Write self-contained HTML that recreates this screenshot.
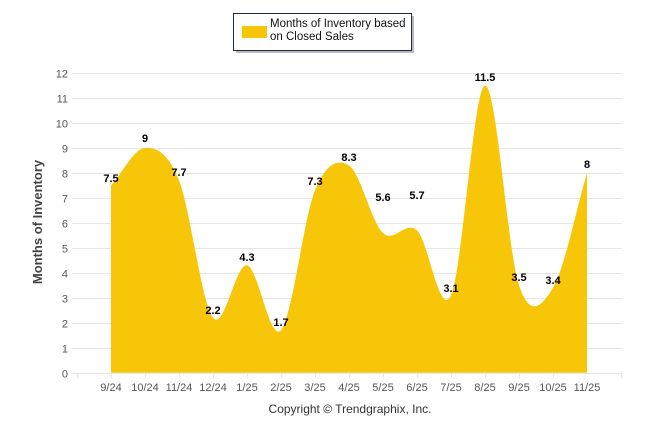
<!DOCTYPE html><html><head><style>body{margin:0;background:#fff}svg{display:block;font-family:"Liberation Sans",Arial,sans-serif}</style></head><body>
<svg id="s" width="646" height="434" xmlns="http://www.w3.org/2000/svg">
<g id="grid" stroke="#e6e6e6" stroke-width="1"></g>
<path id="area" fill="#F8C608"/>
<g id="yl" font-size="11" fill="#555" text-anchor="end"></g>
<g id="xl" font-size="11" fill="#555" text-anchor="middle"></g>
<g id="dl" font-size="11" font-weight="bold" fill="#000" text-anchor="middle"></g>
<text transform="translate(42,222) rotate(-90)" text-anchor="middle" font-size="13" font-weight="bold" fill="#444">Months of Inventory</text>
<rect x="236" y="16" width="178" height="37" fill="#bbb"/>
<rect x="233.5" y="13.5" width="178" height="37" fill="#fff" stroke="#1d2a4a" stroke-width="1"/>
<rect x="242" y="26" width="25" height="12" fill="#F8C608"/>
<text x="270" y="27" font-size="11.5" fill="#111">Months of Inventory based</text>
<text x="270" y="40" font-size="11.5" fill="#111">on Closed Sales</text>
<text x="350" y="413" text-anchor="middle" font-size="12" fill="#333">Copyright © Trendgraphix, Inc.</text>
</svg>
<script>
var v=[7.5,9,7.7,2.2,4.3,1.7,7.3,8.3,5.6,5.7,3.1,11.5,3.5,3.4,8];
var L=["9/24","10/24","11/24","12/24","1/25","2/25","3/25","4/25","5/25","6/25","7/25","8/25","9/25","10/25","11/25"];
var lp=[[111,178],[145,138],[179,172],[213,310],[247,257],[281,322],[315,181],[349,157],[383,197],[417,195],[451,288],[485,77],[519,277],[553,280],[587,164]];
var y0=372.7,u=24.97;function Y(a){return y0-a*u}
var g='',yl='',xl='',dl='';
for(var i=0;i<=12;i++){var y=Math.round(Y(i))+.5;g+='<line x1="72" x2="622" y1="'+y+'" y2="'+y+'"/>';yl+='<text x="68" y="'+(y+4)+'">'+i+'</text>';}
for(var i=0;i<15;i++){var x=111+34*i;g+='<line x1="'+(x-34+.5)+'" x2="'+(x-34+.5)+'" y1="373" y2="378"/>';xl+='<text x="'+x+'" y="391">'+L[i]+'</text>';dl+='<text x="'+lp[i][0]+'" y="'+(lp[i][1]+4)+'">'+v[i]+'</text>';}
g+='<line x1="'+(111+34*15+.5)+'" x2="'+(111+34*15+.5)+'" y1="373" y2="378"/>';
document.getElementById('grid').innerHTML=g;document.getElementById('yl').innerHTML=yl;document.getElementById('xl').innerHTML=xl;document.getElementById('dl').innerHTML=dl;
var P=v.map(function(a,i){return {x:111+34*i,y:Y(a)}});
var n=P.length;
function tg(i){var a=P[Math.max(i-1,0)],b=P[Math.min(i+1,n-1)];var k=(i==0||i==n-1)?1:0.5;return {x:(b.x-a.x)*k,y:(b.y-a.y)*k}}
var d='M111,'+y0+' L'+P[0].x+','+P[0].y;
for(var i=1;i<n;i++){var a=P[i-1],b=P[i],ta=tg(i-1),tb=tg(i);
d+=' C'+(a.x+ta.x/3)+','+(a.y+ta.y/3)+' '+(b.x-tb.x/3)+','+(b.y-tb.y/3)+' '+b.x+','+b.y;}
d+=' L'+P[n-1].x+','+y0+'Z';document.getElementById('area').setAttribute('d',d);
</script></body></html>
